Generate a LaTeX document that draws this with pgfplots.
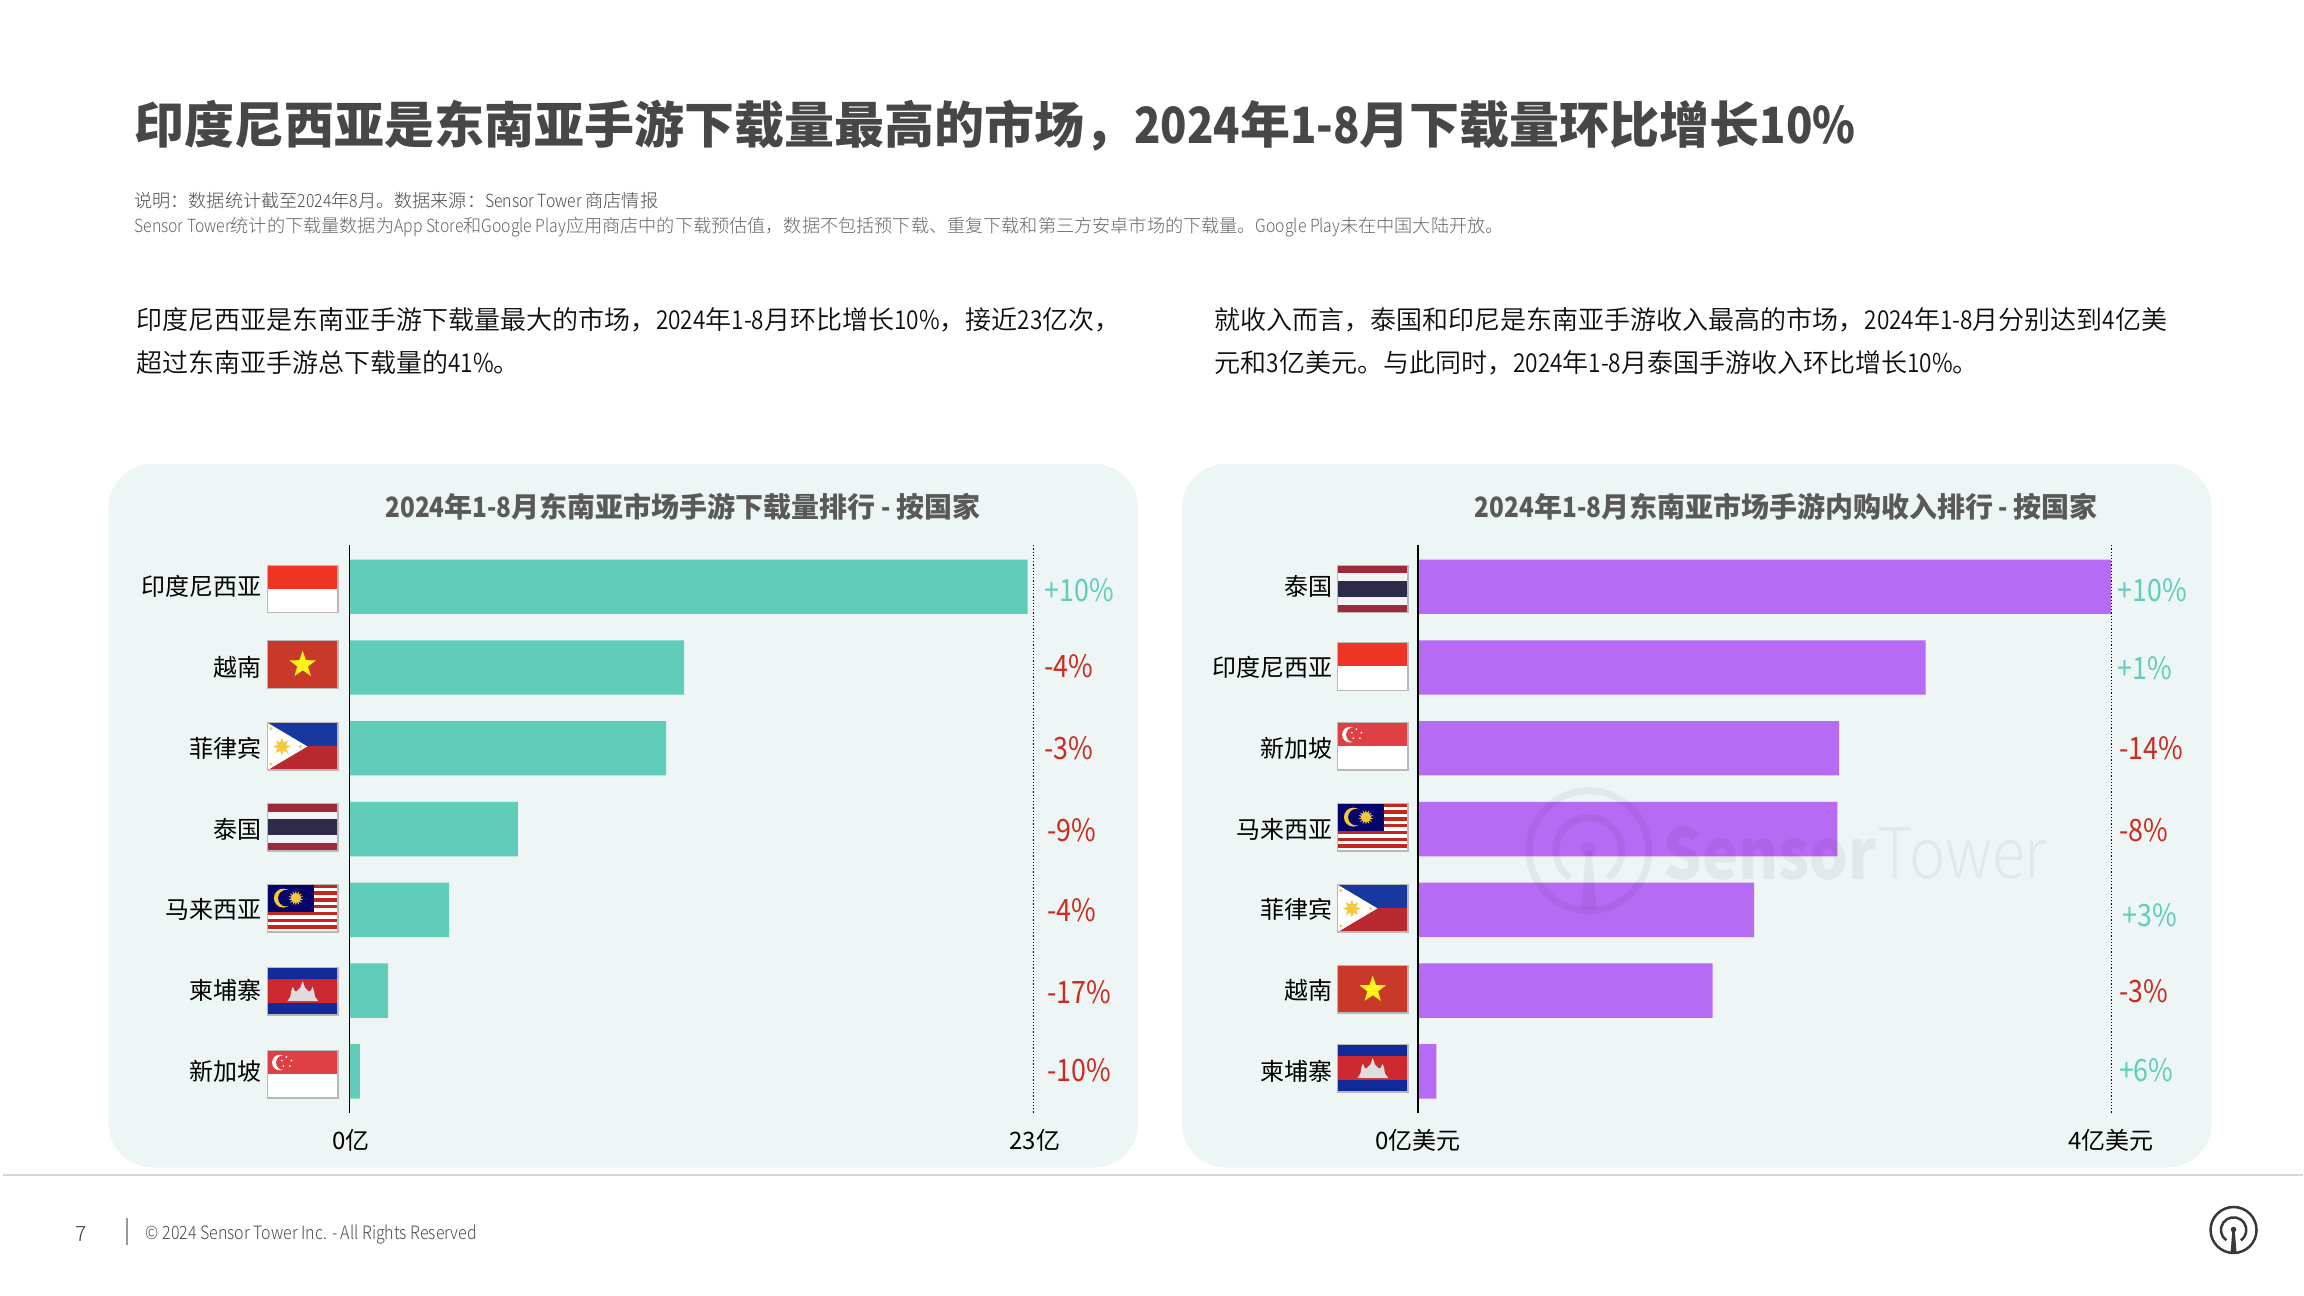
\documentclass[border=0pt]{standalone}
\usepackage{fontspec}
\usepackage{pgfplots}
\pgfplotsset{compat=1.18}
\usetikzlibrary{shapes.geometric}
\setmainfont{Noto Sans CJK SC}
\newfontfamily\lightf{Noto Sans CJK SC Light}
\newfontfamily\demif{Noto Sans CJK SC DemiLight}
\newfontfamily\lat{Noto Sans CJK SC}[FakeStretch=0.87]
\newfontfamily\latl{Noto Sans CJK SC Light}[FakeStretch=0.87]
\newfontfamily\latd{Noto Sans CJK SC DemiLight}[FakeStretch=0.87]
\definecolor{panel}{HTML}{EDF6F5}
\definecolor{teal}{HTML}{5FCDB9}
\definecolor{purp}{HTML}{B76AF3}
\definecolor{posc}{HTML}{5FCDB9}
\definecolor{negc}{HTML}{CC2A1F}
\definecolor{flagb}{HTML}{B8B8B8}
\definecolor{HTMLsun}{HTML}{F5C83C}
\newcommand{\fs}[1]{\fontsize{#1}{#1}\selectfont}
\tikzset{HTML/.code={\definecolor{tmpc}{HTML}{#1}\tikzset{color=tmpc}}}
\newcommand{\fborder}{\draw[flagb,line width=0.7pt] (0,0) rectangle (70.6,47.5);}
\newcommand{\flagID}[2]{\begin{scope}[shift={(#1,#2)}]
\fill[white] (0,0) rectangle (70.6,47.5);\fill[HTML=EE3524] (0,0) rectangle (70.6,23.7);\fborder\end{scope}}
\newcommand{\flagVN}[2]{\begin{scope}[shift={(#1,#2)}]
\fill[HTML=C8392A] (0,0) rectangle (70.6,47.5);
\node[star,star points=5,star point ratio=2.5,fill=yellow!90!white,inner sep=0,minimum size=14pt] at (35.3,24) {};\fborder\end{scope}}
\newcommand{\flagPH}[2]{\begin{scope}[shift={(#1,#2)}]
\fill[HTML=1838A0] (0,0) rectangle (70.6,23.75);\fill[HTML=B82A30] (0,23.75) rectangle (70.6,47.5);
\fill[white] (0,0)--(40,23.75)--(0,47.5)--cycle;
\node[star,star points=8,star point ratio=2,fill=HTMLsun,inner sep=0,minimum size=9pt] at (14.5,24) {};
\fill[HTMLsun] (3.5,6) circle (1.6);\fill[HTMLsun] (3.5,41.5) circle (1.6);\fill[HTMLsun] (33,24) circle (1.6);
\fborder\end{scope}}
\newcommand{\flagTH}[2]{\begin{scope}[shift={(#1,#2)}]
\fill[HTML=F4F4F8] (0,0) rectangle (70.6,47.5);
\fill[HTML=9B2A3A] (0,0) rectangle (70.6,7.9);\fill[HTML=9B2A3A] (0,39.6) rectangle (70.6,47.5);
\fill[HTML=2D2A4A] (0,15.8) rectangle (70.6,31.7);\fborder\end{scope}}
\newcommand{\flagMY}[2]{\begin{scope}[shift={(#1,#2)}]
\fill[white] (0,0) rectangle (70.6,47.5);
\foreach \i in {0,2,...,12}{\fill[HTML=C0281E] (0,{\i*3.39}) rectangle (70.6,{(\i+1)*3.39});}
\fill[HTML=04046A] (0,0) rectangle (46.5,27.2);
\fill[HTMLsun] (16,13.5) circle (9.5);\fill[HTML=04046A] (19,13.5) circle (8.3);
\node[star,star points=14,star point ratio=1.8,fill=HTMLsun,inner sep=0,minimum size=7.5pt] at (28.5,13.5) {};
\fborder\end{scope}}
\newcommand{\flagKH}[2]{\begin{scope}[shift={(#1,#2)}]
\fill[HTML=12299A] (0,0) rectangle (70.6,47.5);\fill[HTML=CC2A30] (0,11.9) rectangle (70.6,35.6);
\fill[HTML=DDDDDD] (20,33.5)--(23,29)--(24,23)--(25.5,19)--(27,23)--(29,24)--(33,20)--(35.3,13.5)--(37.6,20)--(41.6,24)--(43.6,23)--(45.1,19)--(46.6,23)--(47.6,29)--(51,33.5)--cycle;
\fborder\end{scope}}
\newcommand{\flagSG}[2]{\begin{scope}[shift={(#1,#2)}]
\fill[white] (0,0) rectangle (70.6,47.5);\fill[HTML=DE4045] (0,0) rectangle (70.6,23.7);
\fill[white] (12.5,12) circle (7.8);\fill[HTML=DE4045] (16,12) circle (7.3);
\foreach \p in {(19,6.5),(24,10),(22.5,15.5),(16,15.5),(14.5,10)}{\fill[white] \p circle (1);}
\fborder\end{scope}}
% logo: [ring width pt] cx cy r colour
\newcommand{\stlogo}[5][1]{\begin{scope}[shift={(#2,#3)},scale=#4]
\draw[#5,line width=#1 pt] (0,0) circle (1);
\draw[#5,line width=#1 pt] (-0.315,0.45) arc[start angle=125,end angle=415,radius=0.55];
\fill[#5] (0,-0.02) circle (0.12);
\fill[#5] (-0.05,0)--(0.05,0)--(0.13,0.98)--(-0.13,0.98)--cycle;
\end{scope}}
\begin{document}
\begin{tikzpicture}[x=0.5pt,y=-0.5pt]
\fill[white] (0,0) rectangle (2304,1296);
% panels
\fill[panel,rounded corners=22pt] (108.7,464) rectangle (1138.5,1168);
\fill[panel,rounded corners=22pt] (1182.5,464) rectangle (2212.5,1168);
\draw[HTML=D6D6D6,line width=1pt] (3,1175)--(2304,1175);
% header
\node[anchor=base west,inner sep=0,font=\bfseries\fs{25},text=black!72] at (134.5,144) {印度尼西亚是东南亚手游下载量最高的市场，{\lat 2024}年{\lat 1-8}月下载量环比增长{\lat 10\%}};
\node[anchor=base west,inner sep=0,font=\lightf\fs{9.08},text=black!70] at (134,208) {说明：数据统计截至{\latl 2024}年{\latl 8}月。数据来源：{\latl Sensor Tower} 商店情报};
\node[anchor=base west,inner sep=0,font=\lightf\fs{9.08},text=black!60] at (134,233) {{\latl Sensor Tower}统计的下载量数据为{\latl App Store}和{\latl Google Play}应用商店中的下载预估值，数据不包括预下载、重复下载和第三方安卓市场的下载量。{\latl Google Play}未在中国大陆开放。};
\node[anchor=base west,inner sep=0,font=\demif\fs{13},text=black!95] at (136,329.5) {印度尼西亚是东南亚手游下载量最大的市场，{\latd 2024}年{\latd 1-8}月环比增长{\latd 10\%}，接近{\latd 23}亿次，};
\node[anchor=base west,inner sep=0,font=\demif\fs{13},text=black!95] at (136,372.5) {超过东南亚手游总下载量的{\latd 41\%}。};
\node[anchor=base west,inner sep=0,font=\demif\fs{13},text=black!95] at (1215,329.5) {就收入而言，泰国和印尼是东南亚手游收入最高的市场，{\latd 2024}年{\latd 1-8}月分别达到{\latd 4}亿美};
\node[anchor=base west,inner sep=0,font=\demif\fs{13},text=black!95] at (1215,372.5) {元和{\latd 3}亿美元。与此同时，{\latd 2024}年{\latd 1-8}月泰国手游收入环比增长{\latd 10\%}。};
\node[inner sep=0,font=\bfseries\fs{14},text=black!65] at (683,507) {{\lat 2024}年{\lat 1-8}月东南亚市场手游下载量排行{\lat{} - }按国家};
\node[inner sep=0,font=\bfseries\fs{14},text=black!65] at (1787,507) {{\lat 2024}年{\lat 1-8}月东南亚市场手游内购收入排行{\lat{} - }按国家};
% left chart
\begin{axis}[at={(174.8pt,-272.5pt)},anchor=north west,scale only axis,width=342.2pt,height=284pt,
 xmin=0,xmax=23,ymin=-0.52,ymax=6.51,y dir=reverse,clip=false,
 axis line style={draw=none},major tick length=0pt,
 xtick={0,23},xticklabels={0亿,23亿},
 ytick={0,1,2,3,4,5,6},yticklabels={印度尼西亚,越南,菲律宾,泰国,马来西亚,柬埔寨,新加坡},
 tick label style={font=\fs{12},text=black},
 yticklabel style={anchor=east,xshift=-40.5pt},
 xticklabel style={yshift=-4.7pt,xshift=0.6pt}]
\addplot[xbar,draw=none,fill=teal,bar width=27.2pt,bar shift=0pt] coordinates {(22.8,0)(11.25,1)(10.65,2)(5.66,3)(3.35,4)(1.3,5)(0.35,6)};
\draw[black,line width=0.6pt] (rel axis cs:0,0)--(rel axis cs:0,1);
\draw[black,line width=0.6pt,densely dotted] (rel axis cs:1,0)--(rel axis cs:1,1);
\end{axis}
% right chart
\begin{axis}[at={(709.25pt,-272.5pt)},anchor=north west,scale only axis,width=346.8pt,height=284pt,
 xmin=0,xmax=4,ymin=-0.52,ymax=6.51,y dir=reverse,clip=false,
 axis line style={draw=none},major tick length=0pt,
 xtick={0,4},xticklabels={0亿美元,4亿美元},
 ytick={0,1,2,3,4,5,6},yticklabels={泰国,印度尼西亚,新加坡,马来西亚,菲律宾,越南,柬埔寨},
 tick label style={font=\fs{12},text=black},
 yticklabel style={anchor=east,xshift=-39.2pt},
 xticklabel style={yshift=-4.7pt}]
\addplot[xbar,draw=none,fill=purp,bar width=27.2pt,bar shift=0pt] coordinates {(4.0,0)(2.93,1)(2.43,2)(2.42,3)(1.94,4)(1.70,5)(0.107,6)};
\draw[black,line width=0.6pt] (rel axis cs:0,0)--(rel axis cs:0,1);
\draw[black,line width=0.6pt,densely dotted] (rel axis cs:1,0)--(rel axis cs:1,1);
\end{axis}
% flags left
\flagID{267.5}{565.5}\flagVN{267.5}{641}\flagPH{267.5}{723}\flagTH{267.5}{804}\flagMY{267.5}{885}\flagKH{267.5}{968}\flagSG{267.5}{1051}
% flags right
\flagTH{1338}{565.5}\flagID{1338}{643}\flagSG{1338}{723}\flagMY{1338}{804}\flagPH{1338}{885}\flagVN{1338}{966}\flagKH{1338}{1045}
% pct
\tikzset{pct/.style={anchor=west,inner sep=0,font=\lat\fs{15.4}}}
\node[pct,text=posc] at (1044.5,590) {+10\%};
\node[pct,text=negc] at (1044.5,666.5) {-4\%};
\node[pct,text=negc] at (1044.5,749) {-3\%};
\node[pct,text=negc] at (1047.5,831) {-9\%};
\node[pct,text=negc] at (1047.5,910.5) {-4\%};
\node[pct,text=negc] at (1047.5,992.5) {-17\%};
\node[pct,text=negc] at (1047.5,1070.5) {-10\%};
\node[pct,text=posc] at (2118,590) {+10\%};
\node[pct,text=posc] at (2118,668.5) {+1\%};
\node[pct,text=negc] at (2119.5,749) {-14\%};
\node[pct,text=negc] at (2119.5,831) {-8\%};
\node[pct,text=posc] at (2123,915.5) {+3\%};
\node[pct,text=negc] at (2119.5,992) {-3\%};
\node[pct,text=posc] at (2119.5,1070.5) {+6\%};
% watermark
\begin{scope}[opacity=0.05]
\stlogo[3.5]{1589.5}{851}{60}{black}
\node[anchor=west,inner sep=0,font=\bfseries\lat\fs{35},text=black] (wm) at (1664,854) {Sensor};
\node[anchor=west,inner sep=0,font=\latl\fs{35},text=black] at (wm.east) {Tower};
\end{scope}
% footer
\node[inner sep=0,font=\lightf\fs{10.5},text=black!75] at (81,1235) {7};
\draw[HTML=999999,line width=0.8pt] (127,1219)--(127,1246);
\node[anchor=west,inner sep=0,font=\latl\fs{9.2},text=black!70] at (145.5,1235) {© 2024 Sensor Tower Inc. - All Rights Reserved};
\stlogo[1.25]{2234.5}{1230.5}{23}{black!78}
\end{tikzpicture}
\end{document}
